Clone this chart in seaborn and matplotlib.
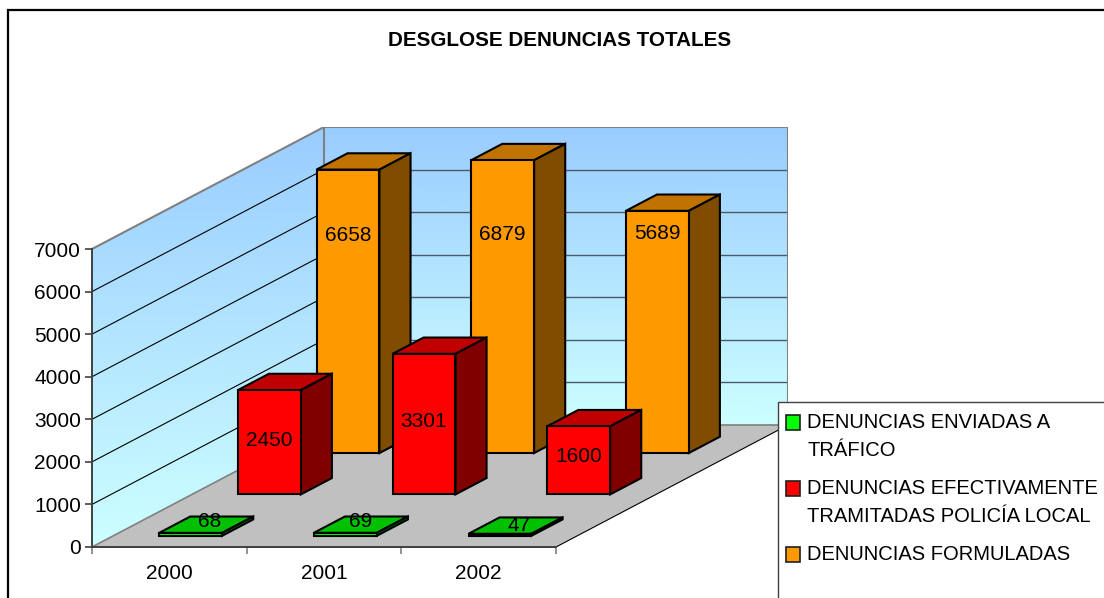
import numpy as np
import matplotlib
matplotlib.use('Agg')
import matplotlib.pyplot as plt
from matplotlib.colors import LinearSegmentedColormap
from matplotlib.patches import Polygon, Rectangle
import seaborn as sns

years = ['2000', '2001', '2002']
enviadas = [68, 69, 47]
tramitadas = [2450, 3301, 1600]
formuladas = [6658, 6879, 5689]
legend_labels = ['DENUNCIAS ENVIADAS A\nTRÁFICO',
                 'DENUNCIAS EFECTIVAMENTE\nTRAMITADAS POLICÍA LOCAL',
                 'DENUNCIAS FORMULADAS']
title = 'DESGLOSE DENUNCIAS TOTALES'
y_ticks = [0, 1000, 2000, 3000, 4000, 5000, 6000, 7000]

# fake 3d: how far the floor runs back, in data units (x categories, y values)
DEPTH_X = 1.5
DEPTH_Y = 2866
BAR_W = 0.407
BAR_D = 0.134
W, H = 1104, 598

sns.set_theme(style='white')
plt.rcParams['font.family'] = ['Liberation Sans', 'DejaVu Sans']
FS = 15

fig = plt.figure(figsize=(W / 100, H / 100), dpi=100, facecolor='white')
ax = fig.add_axes([92 / W, (H - 547) / H, 696 / W, 420 / H])
ax.patch.set_alpha(0)
xlim = (-0.5, -0.5 + 696 / 154.67)
ylim = (0, 420 / 0.04257)

# outer frame runs off the picture on the right and bottom
fig.add_artist(Rectangle((8 / W, -0.05), 1.1, (H - 9.5) / H + 0.05, transform=fig.transFigure,
                         fill=False, ec='black', lw=1.6))

x0, x1 = -0.5, 2.5
top = y_ticks[-1]
grad = LinearSegmentedColormap.from_list('wall', ['#CCFFFF', '#99CCFF'])

# walls with the gradient, left one runs straight down the screen and is clipped to shape
left_wall = ax.pcolormesh(np.array([[x0, x0 + DEPTH_X], [x0, x0 + DEPTH_X]]),
                          np.array([[0, 0], [top + DEPTH_Y, top + DEPTH_Y]]),
                          np.array([[0., 0.], [1., 1.]]), cmap=grad, shading='gouraud', zorder=1)
left_wall.set_clip_path(Polygon([(x0, 0), (x0 + DEPTH_X, DEPTH_Y), (x0 + DEPTH_X, top + DEPTH_Y), (x0, top)],
                                transform=ax.transData))
ax.pcolormesh(np.array([[x0 + DEPTH_X, x1 + DEPTH_X], [x0 + DEPTH_X, x1 + DEPTH_X]]),
              np.array([[DEPTH_Y, DEPTH_Y], [top + DEPTH_Y, top + DEPTH_Y]]),
              np.array([[0., 0.], [1., 1.]]), cmap=grad, shading='gouraud', zorder=1)

# floor
ax.add_patch(Polygon([(x0, 0), (x1, 0), (x1 + DEPTH_X, DEPTH_Y), (x0 + DEPTH_X, DEPTH_Y)],
                     fc='#C0C0C0', ec='none', zorder=1.5))
ax.plot([x1, x1 + DEPTH_X], [0, DEPTH_Y], color='black', lw=0.8, zorder=1.6)

# gridlines
for v in y_ticks[1:-1]:
    ax.plot([x0, x0 + DEPTH_X], [v, v + DEPTH_Y], color='black', lw=0.8, zorder=2)
    ax.plot([x0 + DEPTH_X, x1 + DEPTH_X], [v + DEPTH_Y, v + DEPTH_Y], color='#4A5A6A', lw=1.0, zorder=2)

# wall borders
ax.plot([x0, x0 + DEPTH_X, x1 + DEPTH_X, x1 + DEPTH_X],
        [top, top + DEPTH_Y, top + DEPTH_Y, DEPTH_Y], color='#808080', lw=1.5, zorder=2)
ax.plot([x0 + DEPTH_X, x0 + DEPTH_X], [DEPTH_Y, top + DEPTH_Y], color='#808080', lw=1.5, zorder=2)
ax.plot([x0, x0 + DEPTH_X, x1 + DEPTH_X], [0, DEPTH_Y, DEPTH_Y], color='#808080', lw=1.2, zorder=2)

# back to front: values, depth fraction, front/top/side colours, label nudges in pixels (right, below bar top)
series = [
    (formuladas, 0.770, '#FF9900', '#C07300', '#804D00', [(0, 66), (0, 74), (0, 23)]),
    (tramitadas, 0.431, '#FF0000', '#C00000', '#800000', [(0, 50), (0, 68), (0, 30)]),
    (enviadas, 0.092, '#00FF00', '#00C000', '#008000', [(19, -11), (15, -11), (19, -8)]),
]
xs = np.arange(len(years), dtype=float)
for i, (vals, depth, front, top_c, side, nudges) in enumerate(series):
    z = 3 + i
    dx = depth * DEPTH_X
    base = depth * DEPTH_Y
    bx = BAR_D * DEPTH_X
    by = BAR_D * DEPTH_Y
    sns.barplot(x=xs + dx, y=vals, native_scale=True, width=BAR_W, bottom=base, color=front,
                saturation=1, edgecolor='black', linewidth=1.5, errorbar=None, zorder=z + 0.1, ax=ax)
    for xc, v, (nx, ny) in zip(xs + dx, vals, nudges):
        xl, xr = xc - BAR_W / 2, xc + BAR_W / 2
        yb, yt = base, base + v
        ax.add_patch(Polygon([(xl, yt), (xr, yt), (xr + bx, yt + by), (xl + bx, yt + by)],
                             fc=top_c, ec='black', lw=1.5, zorder=z))
        ax.add_patch(Polygon([(xr, yb), (xr + bx, yb + by), (xr + bx, yt + by), (xr, yt)],
                             fc=side, ec='black', lw=1.5, zorder=z))
        ax.annotate(str(v), xy=(xc, yt), xytext=(nx, -ny), textcoords='offset pixels',
                    ha='center', va='center', fontsize=FS, color='black', zorder=20)

ax.set_xlim(xlim)
ax.set_ylim(ylim)
ax.set_xlabel('')
ax.set_ylabel('')
ax.grid(False)
for s in ['top', 'right']:
    ax.spines[s].set_visible(False)
ax.spines['left'].set_bounds(0, top)
ax.spines['bottom'].set_bounds(x0, x1)
for s in ['left', 'bottom']:
    ax.spines[s].set_color('#404040')
    ax.spines[s].set_linewidth(1.4)
    ax.spines[s].set_zorder(15)
ax.set_yticks(y_ticks)
ax.set_xticks(xs)
ax.set_xticklabels(years)
ax.set_xticks([x0, 0.5, 1.5, x1], minor=True)
ax.tick_params(axis='y', left=True, length=5, width=1.2, color='#404040', labelsize=FS, pad=3, labelcolor='black')
ax.tick_params(axis='x', which='major', bottom=False, length=0, labelsize=FS, pad=12.5, labelcolor='black')
ax.tick_params(axis='x', which='minor', bottom=True, length=5, width=1.2, color='#808080')

fig.text(560 / W, 1 - 41 / H, title, ha='center', va='center', fontsize=14.85, fontweight='bold', color='black')

# legend box, also cut by the picture edge
fig.add_artist(Rectangle((778 / W, -0.05), 0.3, (H - 402) / H + 0.05, transform=fig.transFigure,
                         fc='white', ec='#404040', lw=1.0, zorder=30))
leg_colors = ['#00FF00', '#FF0000', '#FF9900']
leg_rows = [422, 488, 554]
for label, c, row in zip(legend_labels, leg_colors, leg_rows):
    fig.add_artist(Rectangle((786 / W, 1 - (row + 7.5) / H), 14 / W, 15 / H, transform=fig.transFigure,
                             fc=c, ec='#202020', lw=1.2, zorder=31))
    fig.text(807 / W, 1 - (row - 9) / H, label, ha='left', va='top', fontsize=14.5,
             linespacing=1.6, color='black', zorder=32)

fig.savefig('out.png', dpi=100)
